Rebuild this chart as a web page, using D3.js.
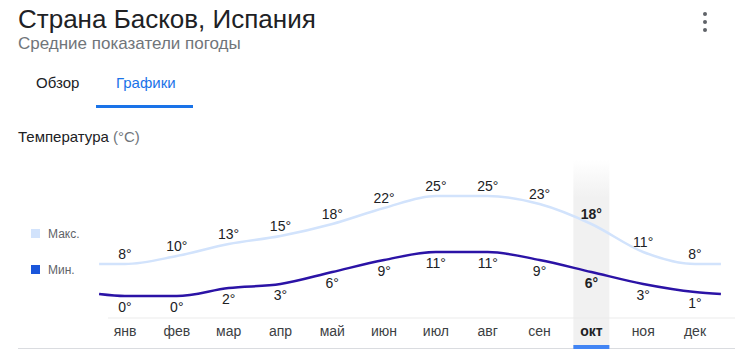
<!DOCTYPE html>
<html><head><meta charset="utf-8">
<script src="https://cdn.jsdelivr.net/npm/d3@7"></script>
<style>
html,body{margin:0;padding:0;background:#fff;}
svg{display:block;font-family:"Liberation Sans",Arial,sans-serif;}
</style></head>
<body>
<svg id="c" width="752" height="361"></svg>
<script>
const months = ["янв","фев","мар","апр","май","июн","июл","авг","сен","окт","ноя","дек"];
const maxTemps = [8,10,13,15,18,22,25,25,23,18,11,8];
const minTemps = [0,0,2,3,6,9,11,11,9,6,3,1];
const selectedMonth = "окт";
const seriesNames = ["Макс.","Мин."];

const svg = d3.select("#c");

// header
svg.append("text").attr("x",18).attr("y",28).attr("font-size",26).attr("fill","#202124").text("Страна Басков, Испания");
svg.append("text").attr("x",18).attr("y",49).attr("font-size",17).attr("fill","#70757a").text("Средние показатели погоды");
// menu dots
[14,22,30].forEach(cy=>svg.append("circle").attr("cx",705).attr("cy",cy).attr("r",2).attr("fill","#5f6368"));
// tabs
svg.append("text").attr("x",36).attr("y",88).attr("font-size",15).attr("fill","#202124").text("Обзор");
svg.append("text").attr("x",116).attr("y",88).attr("font-size",15).attr("fill","#1a73e8").text("Графики");
svg.append("rect").attr("x",96).attr("y",105).attr("width",97).attr("height",3).attr("fill","#1a73e8");

// section title
const st = svg.append("text").attr("x",18).attr("y",142).attr("font-size",15).attr("fill","#202124");
st.append("tspan").text("Температура ");
st.append("tspan").attr("fill","#70757a").text("(°C)");

// scales
const x = d3.scalePoint().domain(months).range([125,695]);
const y = d3.scaleLinear().domain([0,25]).range([296,196]);
const step = x.step();

// highlight band
const defs = svg.append("defs");
const g = defs.append("linearGradient").attr("id","bandg").attr("x1",0).attr("x2",0).attr("y1",0).attr("y2",1);
g.append("stop").attr("offset","0").attr("stop-color","#f1f1f1").attr("stop-opacity",0);
g.append("stop").attr("offset","0.2").attr("stop-color","#f1f1f1").attr("stop-opacity",1);
g.append("stop").attr("offset","1").attr("stop-color","#f1f1f1").attr("stop-opacity",1);
const bw = 36;
svg.append("rect").attr("x",x(selectedMonth)-bw/2).attr("y",160).attr("width",bw).attr("height",188).attr("fill","url(#bandg)");

// axis lines
svg.append("line").attr("x1",108).attr("x2",735).attr("y1",318).attr("y2",318).attr("stroke","#ebebeb").attr("stroke-width",1);
svg.append("line").attr("x1",18).attr("x2",735).attr("y1",348.5).attr("y2",348.5).attr("stroke","#dadce0").attr("stroke-width",1);
svg.append("rect").attr("x",x(selectedMonth)-bw/2).attr("y",345).attr("width",bw).attr("height",4).attr("fill","#4285f4");

// lines with wrap-around edge points
function pts(vals){
  const edge = (vals[0]+vals[vals.length-1])/2;
  const p = [[x(months[0])-step/2, y(edge)]];
  months.forEach((m,i)=>p.push([x(m), y(vals[i])]));
  p.push([x(months[months.length-1])+step/2, y(edge)]);
  return p;
}
const line = d3.line().curve(d3.curveMonotoneX);
svg.append("path").attr("d",line(pts(maxTemps))).attr("fill","none").attr("stroke","#d2e3fc").attr("stroke-width",2.5);
svg.append("path").attr("d",line(pts(minTemps))).attr("fill","none").attr("stroke","#2b13a6").attr("stroke-width",2.5);

// value labels
months.forEach((m,i)=>{
  const bold = m===selectedMonth;
  svg.append("text").attr("x",x(m)).attr("y",y(maxTemps[i])-5).attr("text-anchor","middle")
    .attr("font-size",14).attr("font-weight",bold?"bold":"normal").attr("fill","#202124").text(maxTemps[i]+"°");
  svg.append("text").attr("x",x(m)).attr("y",y(minTemps[i])+16).attr("text-anchor","middle")
    .attr("font-size",14).attr("font-weight",bold?"bold":"normal").attr("fill","#202124").text(minTemps[i]+"°");
  svg.append("text").attr("x",x(m)).attr("y",336).attr("text-anchor","middle")
    .attr("font-size",14).attr("font-weight",bold?"bold":"normal").attr("fill",bold?"#202124":"#3c4043").text(m);
});

// legend
const legColors = ["#d2e3fc","#1a56db"];
seriesNames.forEach((n,i)=>{
  const ly = 233 + i*36;
  svg.append("rect").attr("x",31).attr("y",ly-4).attr("width",9).attr("height",9).attr("fill",legColors[i]);
  svg.append("text").attr("x",48).attr("y",ly+5).attr("font-size",12).attr("fill","#5f6368").text(n);
});
</script>
</body></html>
